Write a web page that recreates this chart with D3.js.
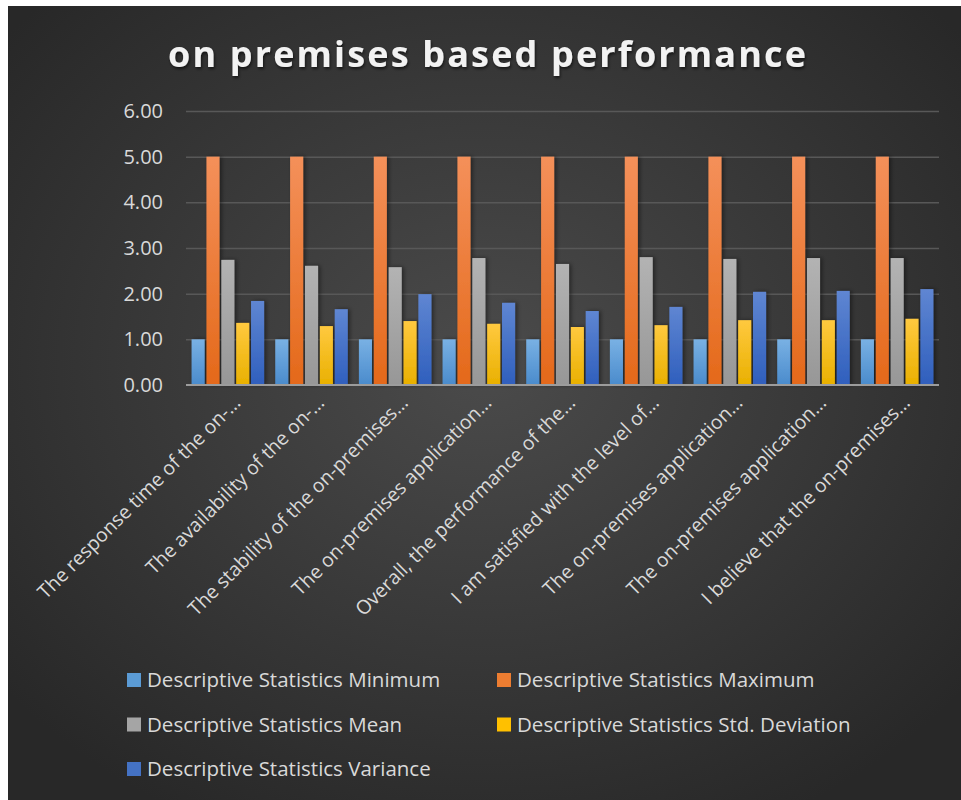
<!DOCTYPE html>
<html>
<head>
<meta charset="utf-8">
<script src="https://cdn.jsdelivr.net/npm/d3@7"></script>
<style>
  html, body { margin: 0; padding: 0; background: #ffffff; }
  svg { display: block; }
</style>
</head>
<body>
<svg id="chart" width="961" height="800"></svg>
<script>
// chart data
var categories = [
  "The response time of the on-\u2026",
  "The availability of the on-\u2026",
  "The stability of the on-premises\u2026",
  "The on-premises application\u2026",
  "Overall, the performance of the\u2026",
  "I am satisfied with the level of\u2026",
  "The on-premises application\u2026",
  "The on-premises application\u2026",
  "I believe that the on-premises\u2026"
];
var seriesNames = [
  "Descriptive Statistics Minimum",
  "Descriptive Statistics Maximum",
  "Descriptive Statistics Mean",
  "Descriptive Statistics Std. Deviation",
  "Descriptive Statistics Variance"
];
var minimumValues  = [1, 1, 1, 1, 1, 1, 1, 1, 1];
var maximumValues  = [5, 5, 5, 5, 5, 5, 5, 5, 5];
var meanValues     = [2.74, 2.61, 2.58, 2.78, 2.65, 2.80, 2.76, 2.78, 2.78];
var stdDevValues   = [1.36, 1.29, 1.40, 1.34, 1.27, 1.31, 1.42, 1.42, 1.45];
var varianceValues = [1.84, 1.66, 1.99, 1.80, 1.62, 1.71, 2.04, 2.06, 2.10];
var yTicks = [0, 1, 2, 3, 4, 5, 6];

var seriesValues = [minimumValues, maximumValues, meanValues, stdDevValues, varianceValues];
// top / bottom colours of each bar gradient
var seriesColors = [
  ["#79b1e4", "#4a8bcc"],
  ["#f4905a", "#e4691a"],
  ["#b3b3b3", "#979797"],
  ["#ffc93f", "#e9b000"],
  ["#5f86d2", "#2f5fbd"]
];
var legendColors = ["#5b9bd5", "#ed7d31", "#a5a5a5", "#ffc000", "#4472c4"];

var svg = d3.select("#chart");
var defs = svg.append("defs");

// background panel
var bg = defs.append("radialGradient")
    .attr("id", "bg")
    .attr("cx", "50%").attr("cy", "45%").attr("r", "65%");
bg.append("stop").attr("offset", "0%").attr("stop-color", "#4b4b4b");
bg.append("stop").attr("offset", "100%").attr("stop-color", "#282828");

svg.append("rect")
    .attr("x", 8).attr("y", 6)
    .attr("width", 953).attr("height", 794)
    .attr("fill", "url(#bg)");

seriesColors.forEach(function(c, i) {
  var g = defs.append("linearGradient")
      .attr("id", "bar" + i)
      .attr("x1", 0).attr("y1", 0).attr("x2", 0).attr("y2", 1);
  g.append("stop").attr("offset", "0%").attr("stop-color", c[0]);
  g.append("stop").attr("offset", "100%").attr("stop-color", c[1]);
});

var shadow = defs.append("filter").attr("id", "shadow")
    .attr("x", "-50%").attr("y", "-10%").attr("width", "200%").attr("height", "120%");
shadow.append("feDropShadow")
    .attr("dx", 2).attr("dy", 0).attr("stdDeviation", 2)
    .attr("flood-color", "#000").attr("flood-opacity", 0.45);

var titleShadow = defs.append("filter").attr("id", "tshadow");
titleShadow.append("feDropShadow")
    .attr("dx", 1).attr("dy", 2).attr("stdDeviation", 1.5)
    .attr("flood-color", "#000").attr("flood-opacity", 0.6);

// title
svg.append("text")
    .attr("x", 487).attr("y", 67)
    .attr("text-anchor", "middle")
    .attr("font-family", "'Open Sans', sans-serif")
    .attr("font-weight", "bold")
    .attr("font-size", 36)
    .attr("fill", "#f2f2f2")
    .attr("textLength", 638)
    .attr("lengthAdjust", "spacing")
    .attr("filter", "url(#tshadow)")
    .text("on premises based performance");

var plotLeft = 186, plotRight = 939, plotTop = 111, plotBottom = 385;

var y = d3.scaleLinear().domain([0, 6]).range([plotBottom, plotTop]);
var x = d3.scaleBand()
    .domain(d3.range(categories.length))
    .range([plotLeft, plotRight])
    .paddingInner(0.133)
    .paddingOuter(0.0667);
var xs = d3.scaleBand()
    .domain(d3.range(seriesNames.length))
    .range([0, x.bandwidth()])
    .paddingInner(0.12);

// gridlines
var grid = svg.append("g")
    .attr("transform", "translate(" + plotLeft + ",0)")
    .call(d3.axisLeft(y).tickValues(yTicks.slice(1)).tickSize(-(plotRight - plotLeft)).tickFormat(""));
grid.select(".domain").remove();
grid.selectAll("line").attr("stroke", "#585858").attr("stroke-width", 1.5);

// y tick labels
var yAxis = svg.append("g")
    .attr("transform", "translate(" + (plotLeft - 23) + ",0)")
    .call(d3.axisLeft(y).tickValues(yTicks).tickSize(0).tickPadding(0).tickFormat(d3.format(".2f")));
yAxis.select(".domain").remove();
yAxis.selectAll("text")
    .attr("font-family", "'Open Sans', sans-serif")
    .attr("font-size", 20)
    .attr("fill", "#d9d9d9");

// bars
var groups = svg.append("g").selectAll("g")
    .data(categories.map(function(c, i) { return i; }))
    .join("g")
    .attr("transform", function(i) { return "translate(" + x(i) + ",0)"; });

groups.selectAll("rect")
    .data(function(i) { return seriesValues.map(function(vals, s) { return { s: s, v: vals[i] }; }); })
    .join("rect")
    .attr("x", function(d) { return xs(d.s); })
    .attr("width", xs.bandwidth())
    .attr("y", function(d) { return y(d.v); })
    .attr("height", function(d) { return y(0) - y(d.v); })
    .attr("fill", function(d) { return "url(#bar" + d.s + ")"; })
    .attr("filter", "url(#shadow)");

// x axis line
svg.append("line")
    .attr("x1", plotLeft).attr("x2", plotRight)
    .attr("y1", y(0)).attr("y2", y(0))
    .attr("stroke", "#9c9c9c").attr("stroke-width", 2);

// x labels, rotated
svg.append("g").selectAll("text")
    .data(categories)
    .join("text")
    .attr("transform", function(d, i) {
      return "translate(" + (x(i) + x.bandwidth() / 2 + 14) + "," + (y(0) + 19) + ") rotate(-45)";
    })
    .attr("text-anchor", "end")
    .attr("font-family", "'Open Sans', sans-serif")
    .attr("font-size", 19.5)
    .attr("fill", "#d9d9d9")
    .text(function(d) { return d; });

// legend
var legend = svg.append("g").selectAll("g")
    .data(seriesNames)
    .join("g")
    .attr("transform", function(d, i) {
      return "translate(" + (i % 2 === 0 ? 127 : 497) + "," + (680 + Math.floor(i / 2) * 44.5) + ")";
    });
legend.append("rect")
    .attr("x", 0).attr("y", -7)
    .attr("width", 14).attr("height", 14)
    .attr("fill", function(d, i) { return legendColors[i]; });
legend.append("text")
    .attr("x", 20).attr("y", 0)
    .attr("dy", "0.35em")
    .attr("font-family", "'Open Sans', sans-serif")
    .attr("font-size", 20.5)
    .attr("fill", "#d9d9d9")
    .text(function(d) { return d; });
</script>
</body>
</html>
